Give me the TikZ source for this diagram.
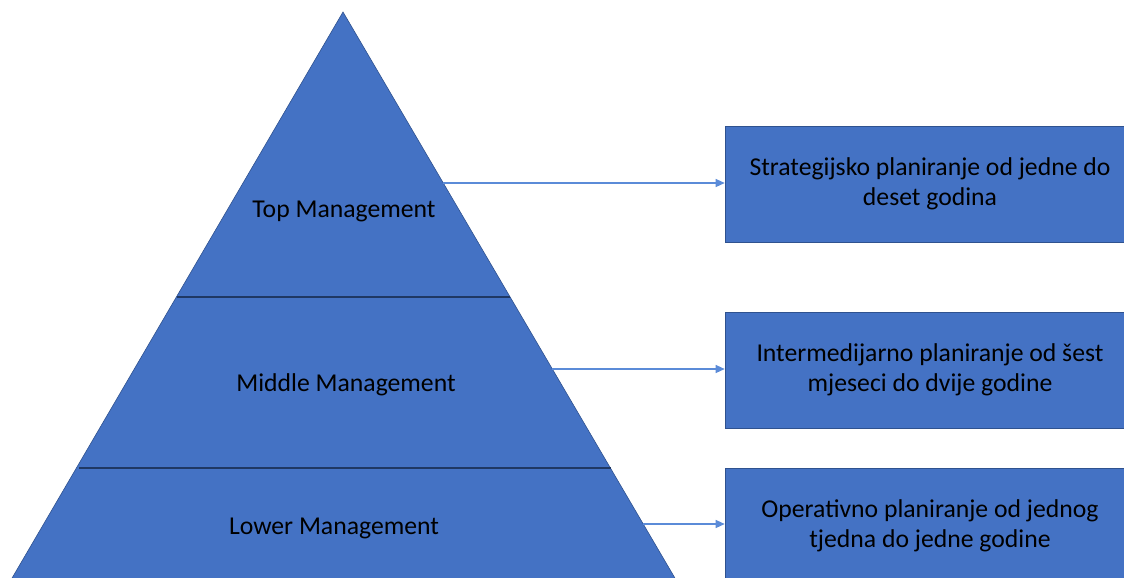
\documentclass[tikz,border=0pt]{standalone}
\usepackage{fontspec}
\setmainfont{Carlito}
\usetikzlibrary{arrows.meta,positioning}
\definecolor{pyrblue}{HTML}{4472C4}
\definecolor{pyredge}{HTML}{2F528F}
\definecolor{pyrline}{HTML}{1F3864}
\definecolor{arrblue}{HTML}{5B8BD8}
\tikzset{>={Triangle[length=9pt,width=8pt]},
  plan box/.style={rectangle,fill=pyrblue,draw=pyredge,line width=0.6pt,minimum width=410pt,minimum height=116pt,inner sep=0pt,align=center,font=\fontsize{25.7}{30.5}\selectfont},
  level label/.style={font=\fontsize{25.7}{30}\selectfont,inner sep=0pt},
  level line/.style={draw=pyrline,line width=1.8pt},
  link/.style={->,draw=arrblue,fill=arrblue,line width=1.2pt}}

\begin{document}
\begin{tikzpicture}[x=1pt,y=-1pt]
  \clip (0,0) rectangle (1124,578);
  % pyramid
  \coordinate (apex) at (343,12);
  \coordinate (bl) at (8,585);
  \coordinate (br) at (679,585);
  \filldraw[fill=pyrblue,draw=pyredge,line width=0.6pt] (apex) -- (bl) -- (br) -- cycle;
  \draw[level line] (177,297) -- (510,297);
  \draw[level line] (79,468) -- (611,468);
  \node[level label] (top) at (344,211) {Top Management};
  \node[level label] (middle) at (346,385) {Middle Management};
  \node[level label] (lower) at (334,528) {Lower Management};
  % planning boxes
  \node[plan box] (strat) at (930,184) {Strategijsko planiranje od jedne do\\deset godina};
  \node[plan box] (inter) at (930,370) {Intermedijarno planiranje od šest\\mjeseci do dvije godine};
  \node[plan box] (oper) at (930,526) {Operativno planiranje od jednog\\tjedna do jedne godine};
  \coordinate (topedge) at (443,183);
  \coordinate (middleedge) at (552,369);
  \coordinate (loweredge) at (643,524);
  \draw[link] (topedge) -- (strat.west |- topedge);
  \draw[link] (middleedge) -- (inter.west |- middleedge);
  \draw[link] (loweredge) -- (oper.west |- loweredge);
\end{tikzpicture}
\end{document}
